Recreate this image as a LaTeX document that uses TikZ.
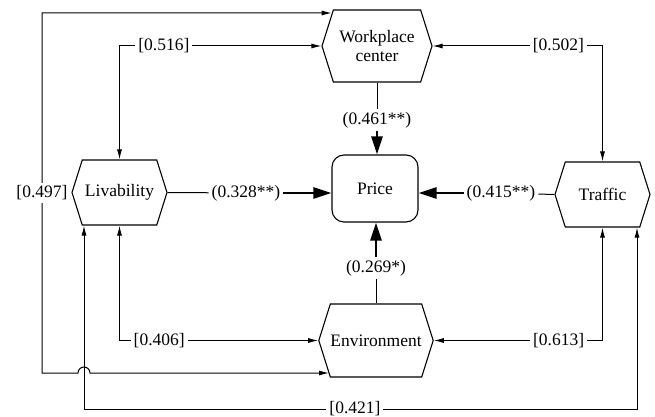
\documentclass[tikz,border=0pt]{standalone}
\usepackage{fontspec}
\setmainfont{Liberation Serif}
\usetikzlibrary{arrows.meta,shapes.symbols}
\tikzset{
  factor/.style={draw,line width=1.1pt,signal,signal to=west and east,
    signal pointer angle=145,align=center,inner sep=0pt},
  lnk/.style={line width=1pt},
  corr/.style={line width=1pt,{Latex[length=10pt,width=5pt]}-{Latex[length=10pt,width=5pt]}},
  effect/.style={line width=2.5pt,-{Triangle[length=18pt,width=11pt]}},
  lbl/.style={fill=white,inner sep=3pt}
}
\begin{document}
\begin{tikzpicture}[x=1pt,y=-1pt,font=\fontsize{17.5}{19}\selectfont]
\useasboundingbox (0,0) rectangle (655,417);
\node[factor,minimum width=110pt,minimum height=72pt] (wp) at (377,46) {Workplace\\center};
\node[factor,minimum width=95pt,minimum height=65pt] (liv) at (119.5,192.5) {Livability};
\node[factor,minimum width=95pt,minimum height=65pt] (tra) at (602.5,194.5) {Traffic};
\node[factor,minimum width=108pt,minimum height=73pt] (env) at (376,340.5) {Environment};
\node[draw,line width=1.1pt,rounded corners=12pt,minimum width=86pt,minimum height=67pt] (price) at (375,188.5) {Price};

\node[lbl] (l461) at (377,120) {(0.461**)};
\node[lbl] (l328) at (246,193) {(0.328**)};
\node[lbl] (l415) at (501,193) {(0.415**)};
\node[lbl] (l269) at (376,268) {(0.269*)};
\draw[lnk] (wp.south) -- (l461);
\draw[effect] (l461) -- (l461 |- price.north);
\draw[lnk] (liv.east) -- (l328);
\draw[effect] (l328) -- (l328 -| price.west);
\draw[lnk] (tra.west) -- (l415);
\draw[effect] (l415) -- (l415 -| price.east);
\draw[lnk] (env.north) -- (l269);
\draw[effect] (l269) -- (l269 |- price.south);

\draw[corr] (liv.north) |- node[lbl,pos=.61] (c516) {[0.516]} (wp.west);
\draw[corr] (wp.east) -| node[lbl,pos=.37] (c502) {[0.502]} (tra.north);
\draw[corr] (liv.south) |- node[lbl,pos=.6] (c406) {[0.406]} (env.west);
\draw[corr] (env.east) -| node[lbl,pos=.37] (c613) {[0.613]} (tra.south);

\coordinate (a421) at (84,409);
\coordinate (b421) at (637,409);
\draw[corr] (liv.south -| a421) -- (a421) -- node[lbl,pos=.49] (c421) {[0.421]} (b421) -- (tra.south -| b421);

\coordinate (a497) at (42,13);
\coordinate (b497) at (42,373);
\draw[corr] (a497 -| wp.144) -- (a497) -- node[lbl] (c497) {[0.497]} (b497)
  -- (78,373) arc[start angle=180,end angle=360,radius=6] -- (b497 -| env.216);
\end{tikzpicture}
\end{document}
